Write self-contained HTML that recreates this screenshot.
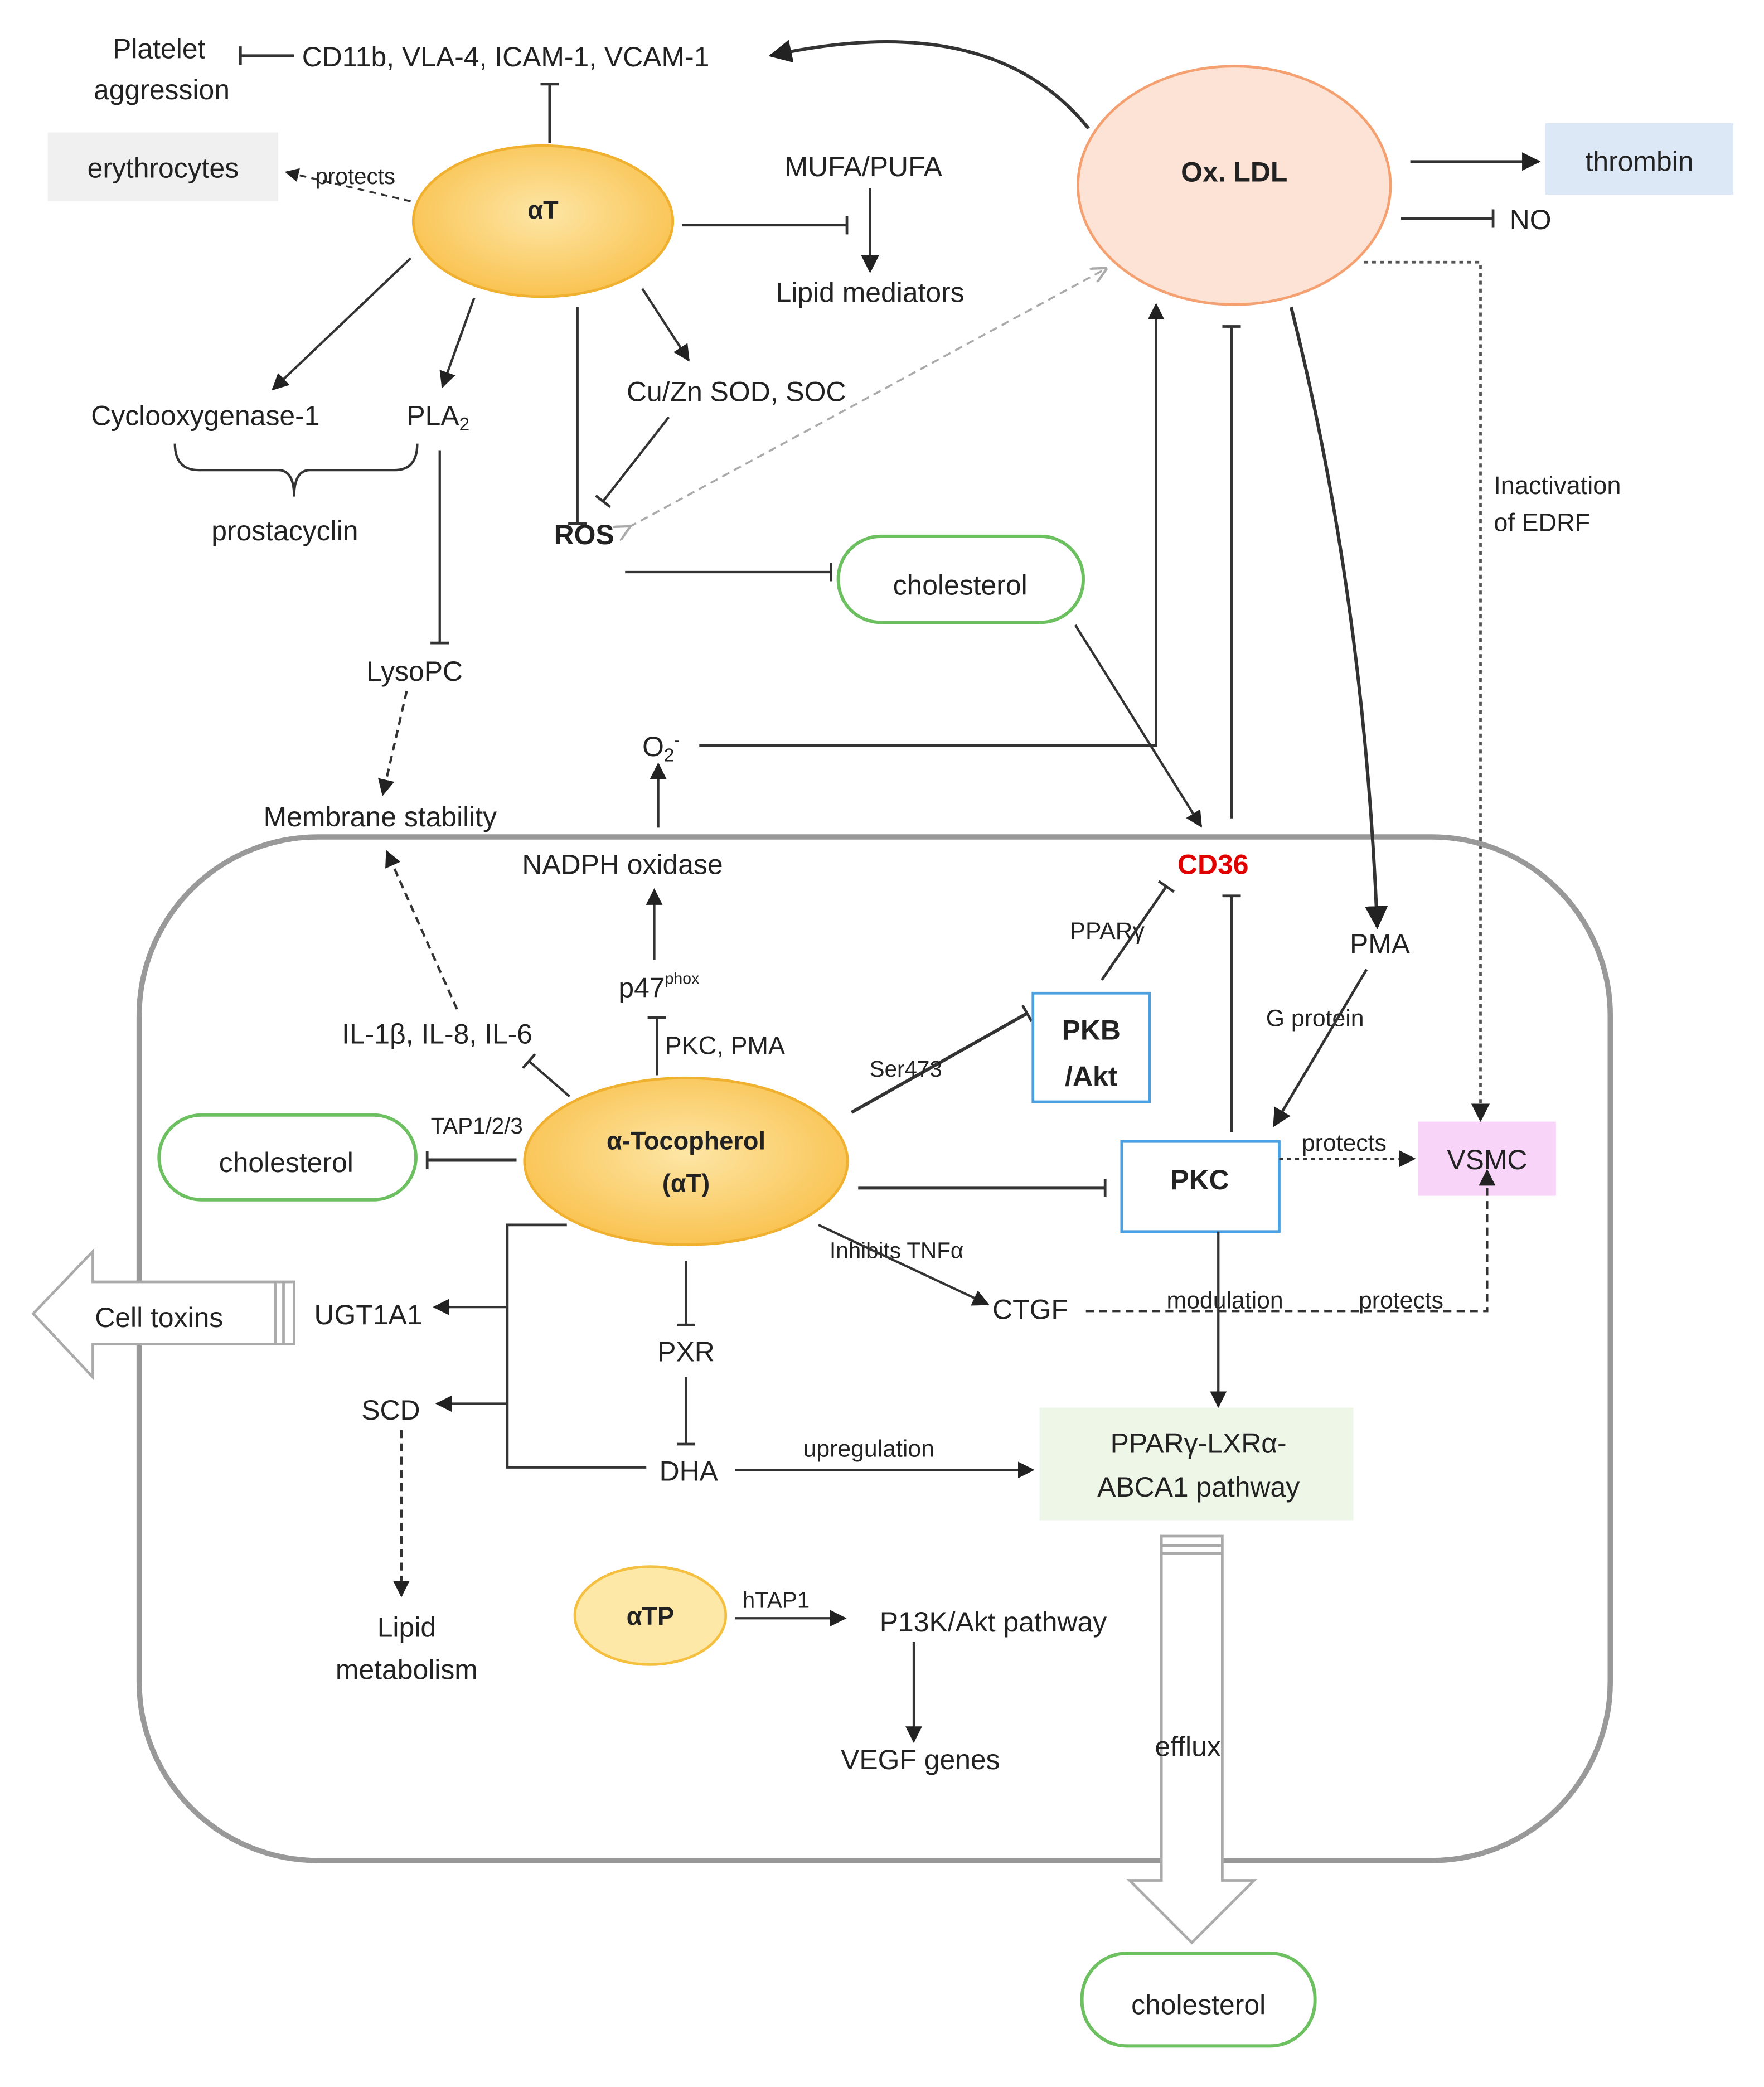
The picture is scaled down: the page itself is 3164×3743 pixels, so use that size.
<!DOCTYPE html>
<html><head><meta charset="utf-8"><style>
html,body{margin:0;padding:0;background:#fff}
svg{display:block}
text{font-family:"Liberation Sans",sans-serif;fill:#222}
</style></head><body>
<svg width="3164" height="3743" viewBox="0 0 1332 1576" xmlns="http://www.w3.org/2000/svg">
<defs>
<marker id="a" viewBox="0 0 10 10" refX="9" refY="5" markerWidth="7" markerHeight="7" orient="auto"><path d="M0,0L10,5L0,10z" fill="#222"/></marker>
<marker id="ag" viewBox="0 0 10 10" refX="9" refY="5" markerWidth="8" markerHeight="8" orient="auto"><path d="M0,0L10,5L0,10" fill="none" stroke="#aaa" stroke-width="1.5"/></marker>
<marker id="b" viewBox="0 0 4 14" refX="2" refY="7" markerWidth="4" markerHeight="14" orient="auto" markerUnits="userSpaceOnUse"><rect x="0.5" y="0" width="2" height="14" fill="#333"/></marker>
<radialGradient id="og" cx="50%" cy="45%" r="60%"><stop offset="0" stop-color="#fde6a6"/><stop offset="1" stop-color="#f9c04a"/></radialGradient>
</defs>
<g font-size="21">
<!-- top -->
<text x="120" y="44" text-anchor="middle">Platelet</text>
<text x="122" y="75" text-anchor="middle">aggression</text>
<line x1="222" y1="42" x2="181" y2="42" stroke="#333" stroke-width="2" marker-end="url(#b)"/>
<text x="228" y="50">CD11b, VLA-4, ICAM-1, VCAM-1</text>
<path d="M822,97 C760,20 660,25 582,42" fill="none" stroke="#333" stroke-width="2.5" marker-end="url(#a)"/>
<rect x="36" y="100" width="174" height="52" fill="#f0f0f0"/>
<text x="123" y="134" text-anchor="middle">erythrocytes</text>
<line x1="310" y1="152" x2="216" y2="130" stroke="#333" stroke-width="1.5" stroke-dasharray="5,4" marker-end="url(#a)"/>
<text x="238" y="139" font-size="17">protects</text>
<ellipse cx="410" cy="167" rx="98" ry="57" fill="url(#og)" stroke="#f0b030" stroke-width="2"/>
<text x="410" y="165" text-anchor="middle" font-weight="bold" font-size="19">αT</text>
<line x1="415" y1="108" x2="415" y2="63" stroke="#333" stroke-width="2" marker-end="url(#b)"/>
<text x="652" y="133" text-anchor="middle">MUFA/PUFA</text>
<line x1="515" y1="170" x2="640" y2="170" stroke="#333" stroke-width="2" marker-end="url(#b)"/>
<line x1="657" y1="142" x2="657" y2="205" stroke="#333" stroke-width="2" marker-end="url(#a)"/>
<text x="657" y="228" text-anchor="middle">Lipid mediators</text>
<ellipse cx="932" cy="140" rx="118" ry="90" fill="#fde3d5" stroke="#f5a070" stroke-width="2"/>
<text x="932" y="137" text-anchor="middle" font-weight="bold">Ox. LDL</text>
<rect x="1167" y="93" width="142" height="54" fill="#dce8f5"/>
<text x="1238" y="129" text-anchor="middle">thrombin</text>
<line x1="1065" y1="122" x2="1162" y2="122" stroke="#333" stroke-width="2" marker-end="url(#a)"/>
<line x1="1058" y1="165" x2="1128" y2="165" stroke="#333" stroke-width="2" marker-end="url(#b)"/>
<text x="1140" y="173">NO</text>
<polyline points="1030,198 1118,198 1118,846" fill="none" stroke="#555" stroke-width="2" stroke-dasharray="3,3" marker-end="url(#a)"/>
<text x="1128" y="373" font-size="19">Inactivation</text>
<text x="1128" y="401" font-size="19">of EDRF</text>
<!-- αT branches -->
<line x1="310" y1="195" x2="206" y2="294" stroke="#333" stroke-width="1.8" marker-end="url(#a)"/>
<line x1="358" y1="225" x2="334" y2="292" stroke="#333" stroke-width="1.8" marker-end="url(#a)"/>
<line x1="436" y1="232" x2="436" y2="396" stroke="#333" stroke-width="1.8" marker-end="url(#b)"/>
<line x1="485" y1="218" x2="520" y2="272" stroke="#333" stroke-width="1.8" marker-end="url(#a)"/>
<text x="155" y="321" text-anchor="middle">Cyclooxygenase-1</text>
<text x="307" y="321">PLA<tspan font-size="14" dy="4">2</tspan></text>
<text x="556" y="303" text-anchor="middle">Cu/Zn SOD, SOC</text>
<line x1="505" y1="315" x2="455" y2="379" stroke="#333" stroke-width="1.8" marker-end="url(#b)"/>
<path d="M132,335 Q132,355 150,355 L210,355 Q222,355 222,375 Q222,355 234,355 L298,355 Q315,355 315,335" fill="none" stroke="#333" stroke-width="1.8"/>
<text x="215" y="408" text-anchor="middle">prostacyclin</text>
<text x="441" y="411" text-anchor="middle" font-weight="bold">ROS</text>
<line x1="475" y1="398" x2="835" y2="203" stroke="#aaa" stroke-width="1.5" stroke-dasharray="6,4" marker-start="url(#ag)" marker-end="url(#ag)"/>
<line x1="332" y1="340" x2="332" y2="486" stroke="#333" stroke-width="1.8" marker-end="url(#b)"/>
<text x="313" y="514" text-anchor="middle">LysoPC</text>
<line x1="307" y1="522" x2="289" y2="600" stroke="#333" stroke-width="1.8" stroke-dasharray="6,4" marker-end="url(#a)"/>
<text x="287" y="624" text-anchor="middle">Membrane stability</text>
<line x1="472" y1="432" x2="628" y2="432" stroke="#333" stroke-width="1.8" marker-end="url(#b)"/>
<rect x="633" y="405" width="185" height="65" rx="32" fill="#fff" stroke="#6cc060" stroke-width="2.5"/>
<text x="725" y="449" text-anchor="middle">cholesterol</text>
<line x1="812" y1="472" x2="907" y2="624" stroke="#333" stroke-width="1.8" marker-end="url(#a)"/>
<text x="485" y="571">O<tspan font-size="14" dy="4">2</tspan><tspan font-size="12" dy="-12">-</tspan></text>
<polyline points="528,563 873,563 873,230" fill="none" stroke="#333" stroke-width="1.8" marker-end="url(#a)"/>
<line x1="497" y1="625" x2="497" y2="577" stroke="#333" stroke-width="1.8" marker-end="url(#a)"/>
<!-- cell -->
<rect x="105" y="632" width="1111" height="773" rx="135" fill="none" stroke="#999" stroke-width="4"/>
<text x="916" y="660" text-anchor="middle" font-weight="bold" fill="#e00000" style="fill:#e00000">CD36</text>
<line x1="930" y1="618" x2="930" y2="246" stroke="#333" stroke-width="2.5" marker-end="url(#b)"/>
<path d="M975,232 Q1030,450 1040,700" fill="none" stroke="#333" stroke-width="2.5" marker-end="url(#a)"/>
<text x="470" y="660" text-anchor="middle">NADPH oxidase</text>
<text x="467" y="753">p47<tspan font-size="12" dy="-10">phox</tspan></text>
<line x1="494" y1="725" x2="494" y2="672" stroke="#333" stroke-width="1.8" marker-end="url(#a)"/>
<text x="502" y="796" font-size="19">PKC, PMA</text>
<line x1="496" y1="812" x2="496" y2="768" stroke="#333" stroke-width="1.8" marker-end="url(#b)"/>
<text x="330" y="788" text-anchor="middle">IL-1β, IL-8, IL-6</text>
<line x1="345" y1="762" x2="292" y2="643" stroke="#333" stroke-width="1.8" stroke-dasharray="6,4" marker-end="url(#a)"/>
<line x1="430" y1="828" x2="399" y2="801" stroke="#333" stroke-width="1.8" marker-end="url(#b)"/>
<ellipse cx="518" cy="877" rx="122" ry="63" fill="url(#og)" stroke="#f0b030" stroke-width="2"/>
<text x="518" y="868" text-anchor="middle" font-weight="bold" font-size="19">α-Tocopherol</text>
<text x="518" y="900" text-anchor="middle" font-weight="bold" font-size="19">(αT)</text>
<text x="360" y="856" text-anchor="middle" font-size="17">TAP1/2/3</text>
<line x1="390" y1="876" x2="322" y2="876" stroke="#333" stroke-width="2.5" marker-end="url(#b)"/>
<rect x="120" y="842" width="194" height="64" rx="32" fill="#fff" stroke="#6cc060" stroke-width="2.5"/>
<text x="216" y="885" text-anchor="middle">cholesterol</text>
<line x1="643" y1="840" x2="776" y2="765" stroke="#333" stroke-width="2.5" marker-end="url(#b)"/>
<text x="684" y="813" text-anchor="middle" font-size="17">Ser473</text>
<rect x="780" y="750" width="88" height="82" fill="#fff" stroke="#4aa0e0" stroke-width="2"/>
<text x="824" y="785" text-anchor="middle" font-weight="bold">PKB</text>
<text x="824" y="820" text-anchor="middle" font-weight="bold">/Akt</text>
<text x="836" y="709" text-anchor="middle" font-size="18">PPARγ</text>
<line x1="832" y1="740" x2="881" y2="669" stroke="#333" stroke-width="2" marker-end="url(#b)"/>
<line x1="648" y1="897" x2="835" y2="897" stroke="#333" stroke-width="2.5" marker-end="url(#b)"/>
<rect x="847" y="862" width="119" height="68" fill="#fff" stroke="#4aa0e0" stroke-width="2"/>
<text x="906" y="898" text-anchor="middle" font-weight="bold">PKC</text>
<line x1="930" y1="855" x2="930" y2="676" stroke="#333" stroke-width="2.5" marker-end="url(#b)"/>
<text x="1042" y="720" text-anchor="middle">PMA</text>
<text x="993" y="775" text-anchor="middle" font-size="18">G protein</text>
<line x1="1032" y1="732" x2="962" y2="850" stroke="#333" stroke-width="2" marker-end="url(#a)"/>
<line x1="966" y1="875" x2="1068" y2="875" stroke="#333" stroke-width="1.8" stroke-dasharray="3,3" marker-end="url(#a)"/>
<text x="1015" y="869" text-anchor="middle" font-size="18">protects</text>
<rect x="1071" y="847" width="104" height="56" fill="#f9d4f9"/>
<text x="1123" y="883" text-anchor="middle">VSMC</text>
<text x="677" y="950" text-anchor="middle" font-size="17">Inhibits TNFα</text>
<line x1="618" y1="925" x2="746" y2="985" stroke="#333" stroke-width="1.8" marker-end="url(#a)"/>
<text x="778" y="996" text-anchor="middle">CTGF</text>
<polyline points="820,990 1123,990 1123,884" fill="none" stroke="#333" stroke-width="1.8" stroke-dasharray="6,4" marker-end="url(#a)"/>
<text x="925" y="988" text-anchor="middle" font-size="18">modulation</text>
<text x="1058" y="988" text-anchor="middle" font-size="18">protects</text>
<line x1="920" y1="930" x2="920" y2="1062" stroke="#333" stroke-width="1.8" marker-end="url(#a)"/>
<rect x="785" y="1063" width="237" height="85" fill="#eef6e8"/>
<text x="905" y="1097" text-anchor="middle">PPARγ-LXRα-</text>
<text x="905" y="1130" text-anchor="middle">ABCA1 pathway</text>
<polyline points="428,925 383,925 383,1108 488,1108" fill="none" stroke="#333" stroke-width="2"/>
<line x1="383" y1="987" x2="328" y2="987" stroke="#333" stroke-width="1.8" marker-end="url(#a)"/>
<line x1="383" y1="1060" x2="330" y2="1060" stroke="#333" stroke-width="1.8" marker-end="url(#a)"/>
<polygon points="25,992 70,945 70,968 222,968 222,1015 70,1015 70,1040" fill="#fff" stroke="#aaa" stroke-width="2"/>
<line x1="208" y1="968" x2="208" y2="1015" stroke="#aaa" stroke-width="2"/>
<line x1="214" y1="968" x2="214" y2="1015" stroke="#aaa" stroke-width="2"/>
<text x="120" y="1002" text-anchor="middle">Cell toxins</text>
<text x="278" y="1000" text-anchor="middle">UGT1A1</text>
<text x="295" y="1072" text-anchor="middle">SCD</text>
<line x1="518" y1="952" x2="518" y2="1001" stroke="#333" stroke-width="1.8" marker-end="url(#b)"/>
<text x="518" y="1028" text-anchor="middle">PXR</text>
<line x1="518" y1="1040" x2="518" y2="1091" stroke="#333" stroke-width="1.8" marker-end="url(#b)"/>
<text x="520" y="1118" text-anchor="middle">DHA</text>
<line x1="555" y1="1110" x2="780" y2="1110" stroke="#333" stroke-width="1.8" marker-end="url(#a)"/>
<text x="656" y="1100" text-anchor="middle" font-size="18">upregulation</text>
<line x1="303" y1="1080" x2="303" y2="1205" stroke="#333" stroke-width="1.8" stroke-dasharray="6,4" marker-end="url(#a)"/>
<text x="307" y="1236" text-anchor="middle">Lipid</text>
<text x="307" y="1268" text-anchor="middle">metabolism</text>
<ellipse cx="491" cy="1220" rx="57" ry="37" fill="#fde8a8" stroke="#f5c040" stroke-width="2"/>
<text x="491" y="1227" text-anchor="middle" font-weight="bold" font-size="19">αTP</text>
<text x="586" y="1214" text-anchor="middle" font-size="17">hTAP1</text>
<line x1="555" y1="1222" x2="638" y2="1222" stroke="#333" stroke-width="1.8" marker-end="url(#a)"/>
<text x="750" y="1232" text-anchor="middle">P13K/Akt pathway</text>
<line x1="690" y1="1240" x2="690" y2="1315" stroke="#333" stroke-width="1.8" marker-end="url(#a)"/>
<text x="695" y="1336" text-anchor="middle">VEGF genes</text>
<polygon points="877,1160 923,1160 923,1420 947,1420 900,1467 853,1420 877,1420" fill="#fff" stroke="#aaa" stroke-width="2"/>
<line x1="877" y1="1167" x2="923" y2="1167" stroke="#aaa" stroke-width="2"/>
<line x1="877" y1="1173" x2="923" y2="1173" stroke="#aaa" stroke-width="2"/>
<text x="897" y="1326" text-anchor="middle">efflux</text>
<rect x="817" y="1475" width="176" height="70" rx="34" fill="#fff" stroke="#6cc060" stroke-width="2.5"/>
<text x="905" y="1521" text-anchor="middle">cholesterol</text>
</g>
</svg>
</body></html>
